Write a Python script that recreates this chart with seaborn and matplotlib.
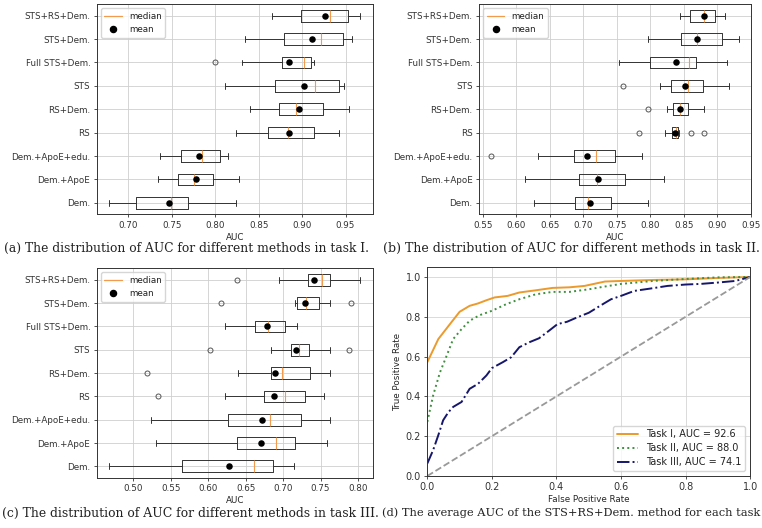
import numpy as np
import pandas as pd
import matplotlib
matplotlib.use("Agg")
import matplotlib.pyplot as plt
from matplotlib.lines import Line2D
import seaborn as sns

# ---------------- data ----------------
methods = ["Dem.", "Dem.+ApoE", "Dem.+ApoE+edu.", "RS", "RS+Dem.", "STS",
           "Full STS+Dem.", "STS+Dem.", "STS+RS+Dem."]

# Task I
whislo_1 = [0.678, 0.734, 0.736, 0.824, 0.840, 0.811, 0.831, 0.834, 0.865]
q1_1     = [0.709, 0.757, 0.761, 0.861, 0.874, 0.869, 0.877, 0.879, 0.899]
med_1    = [0.749, 0.776, 0.785, 0.884, 0.893, 0.915, 0.902, 0.922, 0.932]
q3_1     = [0.769, 0.798, 0.805, 0.914, 0.924, 0.942, 0.910, 0.947, 0.953]
whishi_1 = [0.824, 0.827, 0.815, 0.943, 0.954, 0.948, 0.914, 0.958, 0.967]
mean_1   = [0.747, 0.778, 0.781, 0.885, 0.896, 0.902, 0.885, 0.911, 0.926]
fliers_1 = [[], [], [], [], [], [], [0.800], [], []]

# Task II
whislo_2 = [0.626, 0.613, 0.632, 0.822, 0.825, 0.815, 0.754, 0.797, 0.845]
q1_2     = [0.688, 0.694, 0.686, 0.833, 0.834, 0.831, 0.800, 0.846, 0.859]
med_2    = [0.707, 0.720, 0.719, 0.838, 0.845, 0.857, 0.858, 0.870, 0.880]
q3_2     = [0.741, 0.763, 0.747, 0.842, 0.856, 0.879, 0.869, 0.907, 0.897]
whishi_2 = [0.797, 0.821, 0.788, 0.843, 0.881, 0.918, 0.914, 0.932, 0.912]
mean_2   = [0.710, 0.722, 0.705, 0.837, 0.845, 0.852, 0.838, 0.870, 0.880]
fliers_2 = [[], [], [0.563], [0.783, 0.861, 0.881], [0.796], [0.759], [], [], []]

# Task III
whislo_3 = [0.468, 0.531, 0.524, 0.622, 0.640, 0.684, 0.622, 0.716, 0.694]
q1_3     = [0.565, 0.638, 0.627, 0.674, 0.684, 0.710, 0.662, 0.719, 0.733]
med_3    = [0.661, 0.690, 0.683, 0.703, 0.698, 0.721, 0.680, 0.731, 0.752]
q3_3     = [0.687, 0.716, 0.724, 0.729, 0.736, 0.734, 0.702, 0.748, 0.763]
whishi_3 = [0.715, 0.759, 0.762, 0.755, 0.762, 0.763, 0.718, 0.763, 0.803]
mean_3   = [0.628, 0.671, 0.672, 0.688, 0.689, 0.717, 0.678, 0.729, 0.741]
fliers_3 = [[], [], [], [0.533], [0.518], [0.603, 0.788], [], [0.617, 0.791], [0.638]]

# ROC curves (STS+RS+Dem.)
fpr_1 = [0, 0.034, 0.07, 0.10, 0.131, 0.157, 0.183, 0.208, 0.249, 0.285, 0.336,
         0.388, 0.44, 0.487, 0.55, 0.6, 0.7, 0.8, 0.9, 1.0]
tpr_1 = [0.572, 0.688, 0.763, 0.825, 0.855, 0.867, 0.883, 0.897, 0.905, 0.922, 0.933,
         0.945, 0.948, 0.955, 0.977, 0.98, 0.985, 0.988, 0.995, 1.0]
fpr_2 = [0, 0.018, 0.039, 0.06, 0.08, 0.106, 0.131, 0.162, 0.2, 0.244, 0.285, 0.336,
         0.388, 0.44, 0.5, 0.55, 0.6, 0.7, 0.8, 0.9, 1.0]
tpr_2 = [0.272, 0.405, 0.52, 0.605, 0.688, 0.738, 0.78, 0.808, 0.83, 0.863, 0.888, 0.913,
         0.925, 0.925, 0.938, 0.952, 0.965, 0.98, 0.99, 0.998, 1.0]
fpr_3 = [0, 0.018, 0.034, 0.049, 0.065, 0.08, 0.106, 0.131, 0.157, 0.183, 0.2, 0.234,
         0.26, 0.285, 0.316, 0.346, 0.377, 0.403, 0.433, 0.464, 0.5, 0.538, 0.569, 0.6,
         0.641, 0.692, 0.744, 0.8, 0.846, 0.9, 0.954, 1.0]
tpr_3 = [0.063, 0.13, 0.205, 0.28, 0.32, 0.347, 0.372, 0.438, 0.463, 0.505, 0.542, 0.572,
         0.597, 0.647, 0.672, 0.692, 0.73, 0.763, 0.775, 0.797, 0.82, 0.858, 0.888, 0.905,
         0.93, 0.942, 0.955, 0.962, 0.965, 0.972, 0.98, 1.0]
roc_labels = ["Task I, AUC = 92.6", "Task II, AUC = 88.0", "Task III, AUC = 74.1"]

captions = [
    "(a) The distribution of AUC for different methods in task I.",
    "(b) The distribution of AUC for different methods in task II.",
    "(c) The distribution of AUC for different methods in task III.",
    "(d) The average AUC of the STS+RS+Dem. method for each task",
]

# ---------------- style ----------------
sns.set_theme(style="ticks")
plt.rcParams["font.family"] = ["DejaVu Sans"]
plt.rcParams.update({
    "axes.edgecolor": "#333333",
    "axes.linewidth": 0.7,
    "xtick.major.size": 2.5,
    "ytick.major.size": 2.5,
    "xtick.major.width": 0.6,
    "ytick.major.width": 0.6,
    "xtick.color": "#333333",
    "ytick.color": "#333333",
    "text.color": "#222222",
})

W, H = 762, 528
fig = plt.figure(figsize=(W / 100, H / 100), dpi=100)

MED_C = "#f39a4c"
BOX_FS = 6.3

def box_panel(ax, whislo, q1, med, q3, whishi, mean, fliers):
    stats = []
    for i in range(len(methods)):
        stats.append(dict(whislo=whislo[i], q1=q1[i], med=med[i], q3=q3[i],
                          whishi=whishi[i], fliers=fliers[i], label=methods[i]))
    pos = np.arange(1, len(methods) + 1)
    ax.bxp(stats, positions=pos, widths=0.5, orientation="horizontal",
           showfliers=True,
           boxprops=dict(color="#333333", linewidth=0.7),
           whiskerprops=dict(color="#333333", linewidth=0.7),
           capprops=dict(color="#333333", linewidth=0.7),
           medianprops=dict(color=MED_C, linewidth=0.8),
           flierprops=dict(marker="o", markerfacecolor="none",
                           markeredgecolor="#555555", markersize=3.6,
                           markeredgewidth=0.7))
    df = pd.DataFrame({"mean": mean, "pos": pos})
    sns.scatterplot(data=df, x="mean", y="pos", ax=ax, color="black", s=22,
                    linewidth=0, zorder=5, legend=False)
    ax.set_ylim(0.5, len(methods) + 0.5)
    ax.set_yticks(pos)
    ax.set_yticklabels(methods)
    ax.grid(True, color="#cfcfcf", linewidth=0.6)
    ax.set_axisbelow(True)
    ax.set_xlabel("AUC", fontsize=BOX_FS, labelpad=2)
    ax.set_ylabel("")
    ax.tick_params(labelsize=BOX_FS, pad=2)
    handles = [Line2D([], [], color=MED_C, linewidth=0.9),
               Line2D([], [], color="black", marker="o", linestyle="none", markersize=4.4)]
    ax.legend(handles, ["median", "mean"], loc="upper left", fontsize=BOX_FS,
              frameon=True, framealpha=0.8, edgecolor="#cccccc", fancybox=True,
              borderpad=0.4, handlelength=2.0, labelspacing=0.5)

ax_a = fig.add_axes([0.1268, 0.5938, 0.3625, 0.3986])
box_panel(ax_a, whislo_1, q1_1, med_1, q3_1, whishi_1, mean_1, fliers_1)
ax_a.set_xticks([0.70, 0.75, 0.80, 0.85, 0.90, 0.95])

ax_b = fig.add_axes([0.6286, 0.5938, 0.3570, 0.3986])
box_panel(ax_b, whislo_2, q1_2, med_2, q3_2, whishi_2, mean_2, fliers_2)
ax_b.set_xticks([0.55, 0.60, 0.65, 0.70, 0.75, 0.80, 0.85, 0.90, 0.95])

ax_c = fig.add_axes([0.1268, 0.0947, 0.3625, 0.3977])
box_panel(ax_c, whislo_3, q1_3, med_3, q3_3, whishi_3, mean_3, fliers_3)
ax_c.set_xticks([0.50, 0.55, 0.60, 0.65, 0.70, 0.75, 0.80])

for ax in (ax_a, ax_b, ax_c):
    ax.xaxis.set_major_formatter(matplotlib.ticker.FormatStrFormatter("%.2f"))

# ---------------- ROC panel ----------------
ax_d = fig.add_axes([0.5608, 0.0985, 0.4237, 0.3958])
ROC_FS = 7.0
roc_df = pd.concat([
    pd.DataFrame({"fpr": fpr_1, "tpr": tpr_1, "task": roc_labels[0]}),
    pd.DataFrame({"fpr": fpr_2, "tpr": tpr_2, "task": roc_labels[1]}),
    pd.DataFrame({"fpr": fpr_3, "tpr": tpr_3, "task": roc_labels[2]}),
])
roc_colors = ["#eb9a2c", "#3f8f3f", "#16166b"]
roc_styles = ["-", ":", "-."]
for lab, col, ls in zip(roc_labels, roc_colors, roc_styles):
    sub = roc_df[roc_df["task"] == lab]
    sns.lineplot(data=sub, x="fpr", y="tpr", ax=ax_d, color=col, linestyle=ls,
                 linewidth=1.4, sort=False, estimator=None, label=lab)
diag = pd.DataFrame({"x": [0, 1], "y": [0, 1]})
sns.lineplot(data=diag, x="x", y="y", ax=ax_d, color="#999999", linestyle="--",
             linewidth=1.3, legend=False)
ax_d.set_xlim(0, 1)
ax_d.set_ylim(0, 1.05)
ax_d.set_xticks([0, 0.2, 0.4, 0.6, 0.8, 1.0])
ax_d.set_yticks([0, 0.2, 0.4, 0.6, 0.8, 1.0])
ax_d.xaxis.set_major_formatter(matplotlib.ticker.FormatStrFormatter("%.1f"))
ax_d.yaxis.set_major_formatter(matplotlib.ticker.FormatStrFormatter("%.1f"))
ax_d.grid(True, color="#d5d5d5", linewidth=0.6)
ax_d.set_axisbelow(True)
ax_d.set_xlabel("False Positive Rate", fontsize=6.3, labelpad=2)
ax_d.set_ylabel("True Positive Rate", fontsize=6.3, labelpad=3)
ax_d.tick_params(labelsize=ROC_FS, pad=2)
ax_d.legend(loc="lower right", fontsize=ROC_FS, frameon=True, framealpha=0.8,
            edgecolor="#cccccc", borderpad=0.4, handlelength=2.2, labelspacing=0.4)

# ---------------- captions (fit to the reference widths) ----------------
cap_centers = [(186.5, 248), (571, 248), (190, 513), (571.5, 513)]
cap_widths = [363, 376, 376, 379]
fig.canvas.draw()
renderer = fig.canvas.get_renderer()
for txt, (cx, cy), tw in zip(captions, cap_centers, cap_widths):
    t = fig.text(cx / W, 1 - cy / H, txt, ha="center", va="center", fontsize=8.7,
                 family=["DejaVu Serif"], color="#222222")
    w = t.get_window_extent(renderer).width
    t.set_fontsize(8.7 * tw / w)

fig.savefig("out.png", dpi=100)
